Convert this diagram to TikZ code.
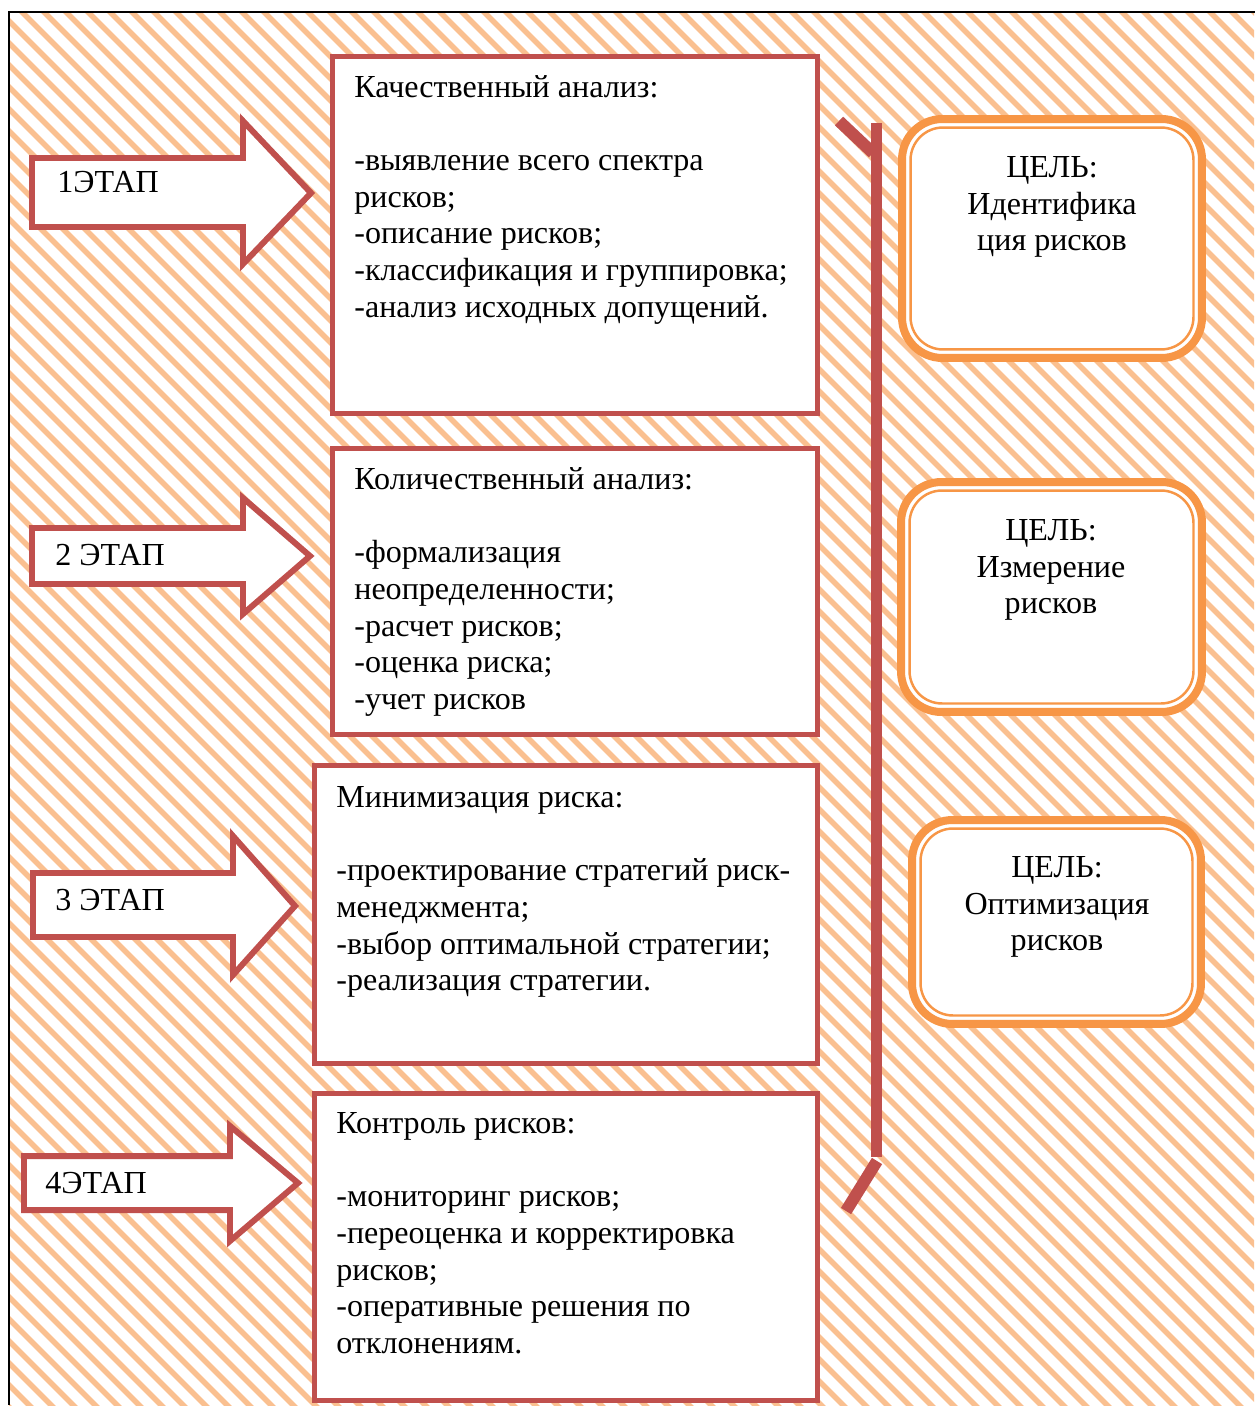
\documentclass[tikz,border=0pt]{standalone}
\usepackage{fontspec}
\setmainfont{Liberation Serif}
\definecolor{redb}{HTML}{C0504D}
\definecolor{orb}{HTML}{F79646}
\definecolor{hatchc}{HTML}{FAC090}
\begin{document}
\begin{tikzpicture}[x=0.02cm,y=-0.02cm,
  stepbox/.style={draw=redb, line width=2.85pt, fill=white, inner sep=0pt, outer sep=0pt},
  goalbox/.style={draw=orb, line width=4.55pt, fill=white, rounded corners=23pt, inner sep=0pt, outer sep=0pt},
  goalinner/.style={draw=orb, line width=1.4pt, rounded corners=18.5pt},
  arrowshape/.style={draw=redb, line width=3.4pt, fill=white, line join=miter},
  bracketline/.style={draw=redb, line width=6.8pt},
  hatchline/.style={draw=hatchc, line width=3.1pt},
  txt/.style={inner sep=0pt, align=left, anchor=north west, font=\fontsize{18.25}{20.9}\selectfont},
  ctxt/.style={inner sep=0pt, align=center, anchor=north, font=\fontsize{18.25}{20.9}\selectfont},
  lbl/.style={inner sep=0pt, anchor=base west, font=\fontsize{18.25}{20.9}\selectfont}]
\useasboundingbox (0,0) rectangle (1254,1412);
% hatched background
\begin{scope}
  \clip (9,12) rectangle (1254,1405);
  \foreach \c in {-1420,-1398,...,1270} {
    \draw[hatchline] (\c,0) -- ++(1430,1430);
  }
\end{scope}
\draw[black, line width=1.2pt] (9,1405) -- (9,12) -- (1260,12);

% step boxes
\node[stepbox, minimum width=9.72cm, minimum height=7.16cm] (b1) at (575,235) {};
\node[stepbox, minimum width=9.72cm, minimum height=5.74cm] (b2) at (575,591.5) {};
\node[stepbox, minimum width=10.08cm, minimum height=5.98cm] (b3) at (566,914.5) {};
\node[stepbox, minimum width=10.08cm, minimum height=6.16cm] (b4) at (566,1247) {};

\node[txt] (t1) at (354,71) {\strut Качественный анализ:\\[20.9pt]-выявление всего спектра\\рисков;\\-описание рисков;\\-классификация и группировка;\\-анализ исходных допущений.};
\node[txt] (t2) at (354,463.3) {\strut Количественный анализ:\\[20.9pt]-формализация\\неопределенности;\\-расчет рисков;\\-оценка риска;\\-учет рисков};
\node[txt] (t3) at (336,781.3) {\strut Минимизация риска:\\[20.9pt]-проектирование стратегий риск-\\менеджмента;\\-выбор оптимальной стратегии;\\-реализация стратегии.};
\node[txt] (t4) at (336,1107.3) {\strut Контроль рисков:\\[20.9pt]-мониторинг рисков;\\-переоценка и корректировка\\рисков;\\-оперативные решения по\\отклонениям.};

% stage arrows
\draw[arrowshape] (32,158) -- (243,158) -- (243,121) -- (311,193) -- (243,264) -- (243,227) -- (32,227) -- cycle;
\draw[arrowshape] (32,528) -- (243,528) -- (243,498) -- (310,556) -- (243,614) -- (243,584) -- (32,584) -- cycle;
\draw[arrowshape] (33,873) -- (233,873) -- (233,836) -- (295,906) -- (233,975) -- (233,937) -- (33,937) -- cycle;
\draw[arrowshape] (24,1156) -- (230,1156) -- (230,1126) -- (298,1183) -- (230,1241) -- (230,1210) -- (24,1210) -- cycle;
\node[lbl] (l1) at (57,193) {1ЭТАП};
\node[lbl] (l2) at (55,565) {2 ЭТАП};
\node[lbl] (l3) at (55,910) {3 ЭТАП};
\node[lbl] (l4) at (45,1193) {4ЭТАП};

% bracket
\draw[bracketline] (876.5,123) -- (876.5,1157);
\draw[bracketline] (839,121) -- (873,153);
\draw[bracketline] (877,1161) -- (846,1211);

% goal boxes
\node[goalbox, minimum width=6.00cm, minimum height=4.78cm] (g1) at (1052,238.5) {};
\node[goalbox, minimum width=6.02cm, minimum height=4.60cm] (g2) at (1051.5,597) {};
\node[goalbox, minimum width=5.78cm, minimum height=4.08cm] (g3) at (1056.5,922) {};
\foreach \g in {g1,g2,g3} {
  \draw[goalinner] ([shift={(8.5,8.5)}]\g.north west) rectangle ([shift={(-8.5,-8.5)}]\g.south east);
}
\node[ctxt] (gt1) at (1052,151.3) {\strut ЦЕЛЬ:\\Идентифика\\ция рисков};
\node[ctxt] (gt2) at (1051,514.3) {\strut ЦЕЛЬ:\\Измерение\\рисков};
\node[ctxt] (gt3) at (1057,851.3) {\strut ЦЕЛЬ:\\Оптимизация\\рисков};
\end{tikzpicture}
\end{document}
